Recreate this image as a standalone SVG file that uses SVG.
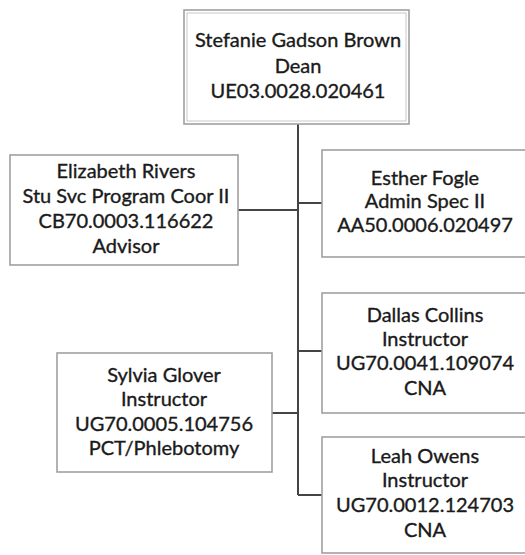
<svg xmlns="http://www.w3.org/2000/svg" width="525" height="555" viewBox="0 0 525 555">
<style>
.box{fill:#fff;stroke:#a0a0a0;stroke-width:1.6}
.inner{fill:none;stroke:#c8c8c8;stroke-width:1}
.t{font-family:Lato,"Liberation Sans",sans-serif;font-size:20px;fill:#1a1a1a;stroke:#1a1a1a;stroke-width:0.35;text-anchor:middle}
.c{fill:none;stroke:#444;stroke-width:2}
</style>
<rect width="525" height="555" fill="#fff"/>
<g id="connectors">
<path class="c" d="M298 124V495"/>
<path class="c" d="M238 210H298"/>
<path class="c" d="M298 203H322"/>
<path class="c" d="M298 351H322"/>
<path class="c" d="M272 413H298"/>
<path class="c" d="M298 495H322"/>
</g>
<g id="dean">
<rect class="box" x="184" y="10" width="225" height="114"/>
<rect class="inner" x="187" y="13" width="219" height="108"/>
<text class="t" x="298" y="47">Stefanie Gadson Brown</text>
<text class="t" x="298" y="73">Dean</text>
<text class="t" x="298" y="98">UE03.0028.020461</text>
</g>
<g id="rivers">
<rect class="box" x="10" y="155" width="228" height="110"/>
<text class="t" x="126" y="178">Elizabeth Rivers</text>
<text class="t" x="126" y="203">Stu Svc Program Coor II</text>
<text class="t" x="126" y="228">CB70.0003.116622</text>
<text class="t" x="126" y="253">Advisor</text>
</g>
<g id="fogle">
<rect class="box" x="322" y="150" width="206" height="107"/>
<text class="t" x="425" y="185">Esther Fogle</text>
<text class="t" x="425" y="208">Admin Spec II</text>
<text class="t" x="425" y="232">AA50.0006.020497</text>
</g>
<g id="collins">
<rect class="box" x="322" y="293" width="206" height="120"/>
<text class="t" x="425" y="322">Dallas Collins</text>
<text class="t" x="425" y="346">Instructor</text>
<text class="t" x="425" y="370">UG70.0041.109074</text>
<text class="t" x="425" y="395">CNA</text>
</g>
<g id="glover">
<rect class="box" x="57" y="353" width="215" height="119"/>
<text class="t" x="164" y="382">Sylvia Glover</text>
<text class="t" x="164" y="406">Instructor</text>
<text class="t" x="164" y="431">UG70.0005.104756</text>
<text class="t" x="164" y="455">PCT/Phlebotomy</text>
</g>
<g id="owens">
<rect class="box" x="322" y="437" width="206" height="116"/>
<text class="t" x="425" y="463">Leah Owens</text>
<text class="t" x="425" y="487">Instructor</text>
<text class="t" x="425" y="512">UG70.0012.124703</text>
<text class="t" x="425" y="537">CNA</text>
</g>
</svg>
